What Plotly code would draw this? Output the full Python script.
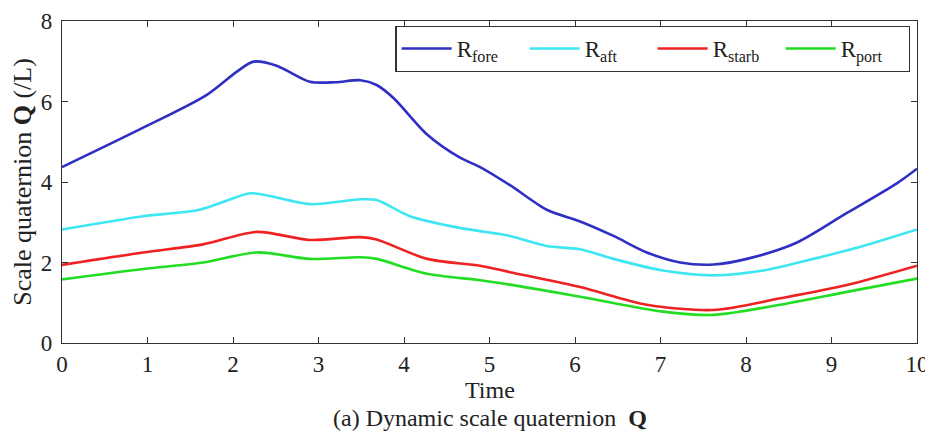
import plotly.graph_objects as go

# Blue R_fore
t_fore = [0, 0.95, 1.69, 2.05, 2.24, 2.51, 2.9, 3.2, 3.49, 3.68, 3.88, 4.27, 4.65, 4.89, 5.24, 5.67, 6.06, 6.45, 6.84, 7.23, 7.62, 8.01, 8.59, 9.18, 9.76, 10]
r_fore = [4.37, 5.35, 6.16, 6.75, 6.99, 6.89, 6.49, 6.48, 6.53, 6.41, 6.08, 5.18, 4.61, 4.37, 3.92, 3.31, 3.02, 2.66, 2.25, 2.0, 1.95, 2.09, 2.49, 3.23, 3.96, 4.33]

# Cyan R_aft
t_aft = [0, 0.95, 1.61, 2.2, 2.39, 2.9, 3.49, 3.68, 4.07, 4.65, 4.89, 5.24, 5.67, 6.06, 6.45, 7.03, 7.62, 8.2, 8.79, 9.37, 10]
r_aft = [2.82, 3.15, 3.31, 3.72, 3.67, 3.45, 3.57, 3.55, 3.15, 2.86, 2.78, 2.66, 2.41, 2.33, 2.09, 1.8, 1.68, 1.8, 2.09, 2.41, 2.82]

# Red R_starb
t_starb = [0, 0.95, 1.65, 2.28, 2.9, 3.49, 3.68, 4.27, 4.89, 5.24, 6.06, 6.84, 7.62, 8.4, 9.18, 10]
r_starb = [1.94, 2.25, 2.45, 2.76, 2.56, 2.63, 2.57, 2.09, 1.92, 1.76, 1.39, 0.95, 0.82, 1.11, 1.44, 1.92]

# Green R_port
t_port = [0, 0.95, 1.65, 2.28, 2.9, 3.49, 3.68, 4.27, 4.89, 5.24, 6.06, 7.03, 7.62, 8.4, 9.18, 10]
r_port = [1.58, 1.84, 2.0, 2.25, 2.09, 2.13, 2.09, 1.72, 1.56, 1.45, 1.15, 0.78, 0.7, 0.95, 1.27, 1.6]

x_ticks = [0, 1, 2, 3, 4, 5, 6, 7, 8, 9, 10]
y_ticks = [0, 2, 4, 6, 8]

series = [
    ("R<sub>fore</sub>", t_fore, r_fore, "#2f2fc4"),
    ("R<sub>aft</sub>", t_aft, r_aft, "#3ee6f2"),
    ("R<sub>starb</sub>", t_starb, r_starb, "#ee2222"),
    ("R<sub>port</sub>", t_port, r_port, "#22dd22"),
]

FONT = "Liberation Serif, Times New Roman, serif"
TXT = "#222222"

fig = go.Figure()
for name, xs, ys, c in series:
    fig.add_trace(go.Scatter(x=xs, y=ys, name=name, mode="lines",
                             line=dict(color=c, width=2.6, shape="spline", smoothing=0.8)))

axis_common = dict(showline=True, linecolor="#333333", linewidth=1.2, mirror="ticks",
                   ticks="inside", ticklen=6, tickcolor="#333333", showgrid=False,
                   zeroline=False, automargin=False, ticklabeloverflow="allow",
                   tickfont=dict(family=FONT, size=23, color=TXT))

fig.update_layout(
    width=933, height=440,
    margin=dict(l=54, r=24, t=13, b=105),
    paper_bgcolor="white", plot_bgcolor="white",
    font=dict(family=FONT, size=23, color=TXT),
    xaxis=dict(range=[0, 10], tickvals=x_ticks, **axis_common),
    yaxis=dict(range=[0, 8], tickvals=y_ticks, ticklabelstandoff=4, **axis_common),
    legend=dict(x=0.39, y=0.985, xanchor="left", yanchor="top", orientation="h",
                bordercolor="#333333", borderwidth=1.2, bgcolor="white",
                font=dict(family=FONT, size=23, color=TXT),
                entrywidth=63, entrywidthmode="pixels", itemwidth=50),
    showlegend=True,
)

fig.add_annotation(text="Scale quaternion <b>Q</b> (/L)", xref="paper", yref="paper",
                   x=-0.047, y=0.5, xanchor="center", yanchor="middle", textangle=-90,
                   showarrow=False, font=dict(family=FONT, size=26, color=TXT))
fig.add_annotation(text="Time", xref="paper", yref="paper",
                   x=0.5, y=-0.147, xanchor="center", yanchor="middle",
                   showarrow=False, font=dict(family=FONT, size=24, color=TXT))
fig.add_annotation(text="(a) Dynamic scale quaternion  <b>Q</b>", xref="paper", yref="paper",
                   x=0.5, y=-0.232, xanchor="center", yanchor="middle", showarrow=False,
                   font=dict(family=FONT, size=24, color=TXT))

fig.write_html("out.html")
